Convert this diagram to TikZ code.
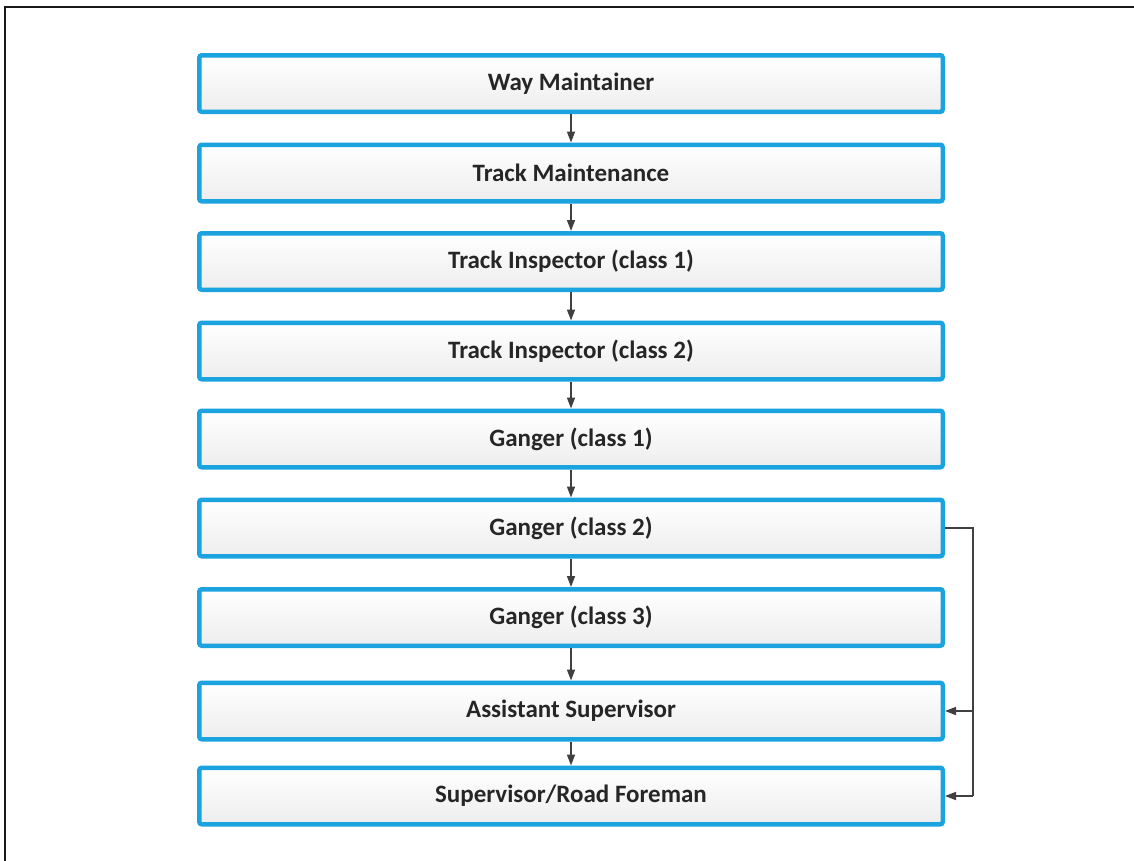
\documentclass[tikz,border=0pt]{standalone}
\usepackage{fontspec}
\setmainfont{Carlito}
\usetikzlibrary{arrows.meta}
\definecolor{boxblue}{RGB}{27,163,224}
\definecolor{arrowgray}{RGB}{64,64,64}
\tikzset{
  rolebox/.style={draw=boxblue, line width=4.5pt, rounded corners=2.5pt,
    top color=white, bottom color=black!7, minimum width=743.5pt,
    minimum height=56.5pt, inner sep=0pt,
    font=\fontsize{25}{29}\selectfont\bfseries, text=black!85},
  link/.style={draw=arrowgray, line width=1.6pt,
    -{Triangle[length=11pt,width=8pt]}},
  x=1pt, y=-1pt
}
\begin{document}
\begin{tikzpicture}
\useasboundingbox (0,0) rectangle (1134,860);
\fill[white] (0,0) rectangle (1134,860);
\draw[line width=2.2pt, black!90] (5,870) -- (5,7) -- (1145,7);
\node[rolebox] (n1) at (571,83.5) {Way Maintainer};
\node[rolebox] (n2) at (571,173) {Track Maintenance};
\node[rolebox] (n3) at (571,261.5) {Track Inspector (class 1)};
\node[rolebox] (n4) at (571,351) {Track Inspector (class 2)};
\node[rolebox] (n5) at (571,439) {Ganger (class 1)};
\node[rolebox] (n6) at (571,528) {Ganger (class 2)};
\node[rolebox] (n7) at (571,617.5) {Ganger (class 3)};
\node[rolebox] (n8) at (571,711) {Assistant Supervisor};
\node[rolebox] (n9) at (571,796) {Supervisor/Road Foreman};
\foreach \a/\b in {n1/n2,n2/n3,n3/n4,n4/n5,n5/n6,n6/n7,n7/n8,n8/n9}
  \draw[link] (\a.south) -- (\b.north);
\coordinate (j1) at (973,528);
\coordinate (j2) at (973,711);
\coordinate (j3) at (973,796);
\draw[draw=arrowgray, line width=1.6pt] (n6.east) -- (j1) -- (j3);
\draw[link] (j2) -- (n8.east);
\draw[link] (j3) -- (n9.east);
\end{tikzpicture}
\end{document}
